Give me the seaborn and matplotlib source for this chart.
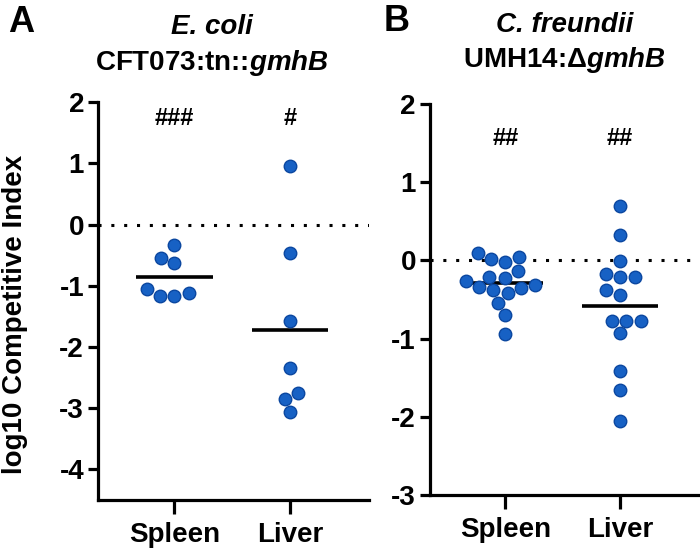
import matplotlib
matplotlib.use("Agg")
import matplotlib.pyplot as plt
import numpy as np
import pandas as pd
import seaborn as sns

# Panel A: E. coli CFT073:tn::gmhB
a_spleen = [-0.33, -0.63, -0.55, -1.16, -1.05, -1.16, -1.11]
a_liver = [0.96, -0.46, -1.58, -2.34, -2.75, -2.85, -3.06]

# Panel B: C. freundii UMH14:dgmhB
b_spleen = [0.04, -0.02, 0.09, 0.02, -0.14, -0.21, -0.22, -0.26,
            -0.31, -0.34, -0.38, -0.42, -0.36, -0.55, -0.70, -0.94]
b_liver = [0.70, 0.32, -0.01, -0.17, -0.21, -0.21, -0.38, -0.44,
           -0.78, -0.77, -0.77, -0.93, -1.42, -1.66, -2.06]

organs = ["Spleen", "Liver"]
a_marks = ["###", "#"]
b_marks = ["##", "##"]

FILL = "#1761C4"
EDGE = "#0B47A0"
FONT = "Liberation Sans"
FS = 20


def long_form(spleen, liver):
    return pd.DataFrame({
        "organ": ["Spleen"] * len(spleen) + ["Liver"] * len(liver),
        "ci": spleen + liver,
    })


def style_axis(ax, ylo, yhi, ticks):
    sns.despine(ax=ax)
    ax.set_ylim(ylo, yhi)
    ax.set_xlim(-0.66, 1.68)
    ax.set_yticks(ticks)
    ax.spines["left"].set_bounds(ylo, yhi)
    for side in ["left", "bottom"]:
        ax.spines[side].set_linewidth(2.3)
        ax.spines[side].set_color("black")
    ax.tick_params(axis="y", length=7, width=2.3, labelsize=FS, pad=3,
                   color="black", labelcolor="black")
    ax.tick_params(axis="x", length=10, width=2.3, labelsize=FS, pad=6,
                   color="black", labelcolor="black")
    for lab in ax.get_xticklabels() + ax.get_yticklabels():
        lab.set_fontweight("bold")
        lab.set_family(FONT)
    ax.set_xlabel("")
    ax.set_ylabel("")
    ax.axhline(0, color="black", lw=2.2, ls=(0, (1, 3.2)), zorder=1)


def panel(ax, df, marks, mark_y, ylo, yhi, ticks):
    means = df.groupby("organ", sort=False)["ci"].mean().reindex(organs)
    ax.hlines(means.values, np.arange(2) - 0.33, np.arange(2) + 0.33,
              color="black", lw=2.6, zorder=2)
    sns.swarmplot(data=df, x="organ", y="ci", order=organs, ax=ax,
                  color=FILL, edgecolor=EDGE, linewidth=1, size=9, zorder=3)
    for i, m in enumerate(marks):
        ax.text(i, mark_y, m, ha="center", va="center", fontsize=17,
                fontweight="bold", family=FONT, color="black")
    style_axis(ax, ylo, yhi, ticks)


sns.set_theme(style="ticks")
plt.rcParams["font.family"] = [FONT, "DejaVu Sans"]
plt.rcParams["axes.unicode_minus"] = False
plt.rcParams["text.color"] = "black"
plt.rcParams["mathtext.fontset"] = "custom"
plt.rcParams["mathtext.rm"] = FONT + ":bold"
plt.rcParams["mathtext.bf"] = FONT + ":bold"
plt.rcParams["mathtext.it"] = FONT + ":italic:bold"
plt.rcParams["mathtext.bfit"] = FONT + ":italic:bold"

fig = plt.figure(figsize=(7, 5.54), dpi=100)
ax_a = fig.add_axes([0.140, 0.0975, 0.387, 0.718])
ax_b = fig.add_axes([0.614, 0.1065, 0.383, 0.706])

panel(ax_a, long_form(a_spleen, a_liver), a_marks, 1.73, -4.5, 2,
      [2, 1, 0, -1, -2, -3, -4])
panel(ax_b, long_form(b_spleen, b_liver), b_marks, 1.56, -3, 2,
      [2, 1, 0, -1, -2, -3])

fig.text(0.022, 0.432, "log10 Competitive Index", rotation=90, ha="center",
         va="center", fontsize=20, fontweight="bold")

fig.text(0.303, 0.951, "E. coli", ha="center", va="center", fontsize=FS,
         fontweight="bold", style="italic")
fig.text(0.303, 0.886, r"CFT073:tn::$\mathbfit{gmhB}$", ha="center",
         va="center", fontsize=FS, fontweight="bold")
fig.text(0.807, 0.955, "C. freundii", ha="center", va="center", fontsize=FS,
         fontweight="bold", style="italic")
fig.text(0.807, 0.892, r"UMH14:Δ$\mathbfit{gmhB}$", ha="center",
         va="center", fontsize=FS, fontweight="bold")

fig.text(0.030, 0.960, "A", ha="center", va="center", fontsize=26,
         fontweight="bold")
fig.text(0.567, 0.962, "B", ha="center", va="center", fontsize=26,
         fontweight="bold")

fig.savefig("out.png", dpi=100, facecolor="white")
